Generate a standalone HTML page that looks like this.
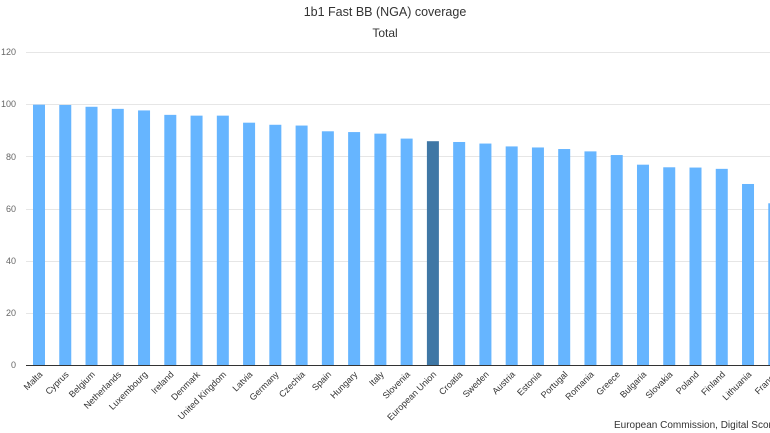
<!DOCTYPE html>
<html><head><meta charset="utf-8"><style>
html,body{margin:0;padding:0;background:#fff;}
svg{display:block;font-family:"Liberation Sans",sans-serif;}
</style></head><body>
<svg width="770" height="433" viewBox="0 0 770 433" xmlns="http://www.w3.org/2000/svg">
<text x="385" y="16" text-anchor="middle" font-size="12.5" fill="#333">1b1 Fast BB (NGA) coverage</text>
<text x="385" y="37" text-anchor="middle" font-size="12" fill="#333">Total</text>
<g stroke="#e6e6e6" stroke-width="1">
<line x1="26" x2="770" y1="52.5" y2="52.5"/>
<line x1="26" x2="770" y1="104.5" y2="104.5"/>
<line x1="26" x2="770" y1="156.5" y2="156.5"/>
<line x1="26" x2="770" y1="209.5" y2="209.5"/>
<line x1="26" x2="770" y1="261.5" y2="261.5"/>
<line x1="26" x2="770" y1="313.5" y2="313.5"/>
</g>
<g font-size="9" fill="#666" text-anchor="end">
<text x="16" y="55">120</text><text x="16" y="107">100</text><text x="16" y="160">80</text>
<text x="16" y="212">60</text><text x="16" y="264">40</text><text x="16" y="316">20</text><text x="16" y="368">0</text>
</g>
<g id="bars"></g>
<line x1="26" x2="770" y1="365.5" y2="365.5" stroke="#333" stroke-width="1"/>
<g id="labels" font-size="9" fill="#333" text-anchor="end"></g>
<text x="614" y="428" font-size="10" fill="#333">European Commission, Digital Scoreboard</text>
<script>
var d=[["Malta",99.8],["Cyprus",99.7],["Belgium",99.0],["Netherlands",98.2],["Luxembourg",97.6],["Ireland",95.9],["Denmark",95.6],["United Kingdom",95.6],["Latvia",92.9],["Germany",92.1],["Czechia",91.8],["Spain",89.6],["Hungary",89.3],["Italy",88.7],["Slovenia",86.8],["European Union",85.8],["Croatia",85.5],["Sweden",84.9],["Austria",83.8],["Estonia",83.4],["Portugal",82.8],["Romania",81.9],["Greece",80.5],["Bulgaria",76.8],["Slovakia",75.8],["Poland",75.7],["Finland",75.2],["Lithuania",69.4],["France",62.0]];
var ns="http://www.w3.org/2000/svg",b=document.getElementById("bars"),l=document.getElementById("labels");
d.forEach(function(e,i){
 var cx=39+i*26.26,h=e[1]*313/120;
 var r=document.createElementNS(ns,"rect");
 r.setAttribute("x",cx-6);r.setAttribute("width",12);r.setAttribute("y",365-h);r.setAttribute("height",h);
 r.setAttribute("fill",e[0]=="European Union"?"#3f77a5":"#66b5ff");b.appendChild(r);
 var t=document.createElementNS(ns,"text");
 t.setAttribute("x",cx+4);t.setAttribute("y",375);
 t.setAttribute("transform","rotate(-45 "+(cx+4)+" 375)");t.textContent=e[0];l.appendChild(t);
});
</script>
</svg>
</body></html>
